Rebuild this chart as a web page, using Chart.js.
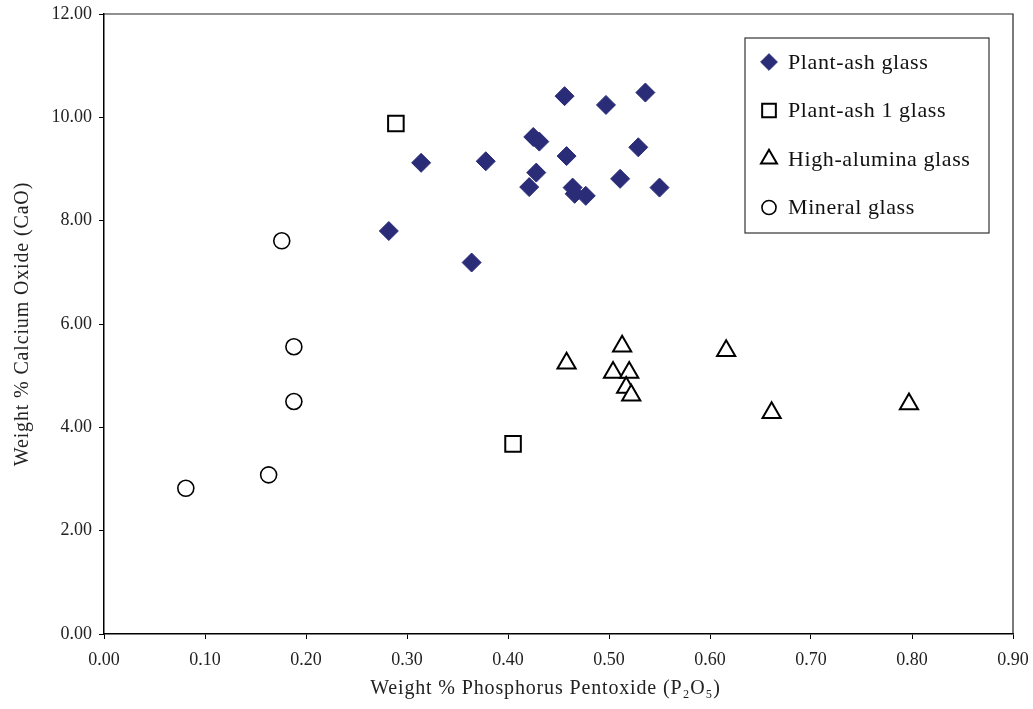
<!DOCTYPE html>
<html>
<head>
<meta charset="utf-8">
<script src="https://cdn.jsdelivr.net/npm/chart.js@4.4.1/dist/chart.umd.min.js"></script>
<style>
  body { margin: 0; background: #fff; }
  #wrap { width: 1033px; height: 709px; position: relative; }
</style>
</head>
<body>
<div id="wrap"><canvas id="chart"></canvas></div>
<script>
// values (P2O5 wt%, CaO wt%)
var plantAshX = [0.456, 0.497, 0.536, 0.425, 0.431, 0.458, 0.529, 0.314, 0.378, 0.428, 0.421, 0.464, 0.466, 0.477, 0.511, 0.550, 0.282, 0.364];
var plantAshY = [10.41, 10.24, 10.48, 9.62, 9.53, 9.25, 9.42, 9.12, 9.15, 8.93, 8.65, 8.64, 8.52, 8.48, 8.81, 8.64, 7.80, 7.19];

var plantAsh1X = [0.289, 0.405];
var plantAsh1Y = [9.88, 3.68];

var highAluminaX = [0.458, 0.513, 0.616, 0.504, 0.520, 0.517, 0.522, 0.661, 0.797];
var highAluminaY = [5.24, 5.57, 5.48, 5.06, 5.06, 4.77, 4.62, 4.28, 4.45];

var mineralX = [0.176, 0.188, 0.188, 0.163, 0.081];
var mineralY = [7.61, 5.56, 4.50, 3.08, 2.82];

var seriesNames = ['Plant-ash glass', 'Plant-ash 1 glass', 'High-alumina glass', 'Mineral glass'];

var xTitle = 'Weight % Phosphorus Pentoxide (P\u2082O\u2085)';
var yTitle = 'Weight % Calcium Oxide (CaO)';

function toPoints(xs, ys) {
    return xs.map(function(x, i) { return {x: x, y: ys[i]}; });
}

var serif = "'Liberation Serif', 'DejaVu Serif', serif";
var navy = '#2a2c78';

// plot frame, axis titles and the boxed legend, drawn Excel style
var frameAndLegend = {
    id: 'frameAndLegend',
    afterDraw: function(chart) {
        var ctx = chart.ctx, a = chart.chartArea;
        ctx.save();
        ctx.strokeStyle = '#222';
        ctx.lineWidth = 1.2;
        ctx.beginPath();
        ctx.moveTo(a.left, a.top);
        ctx.lineTo(a.right, a.top);
        ctx.lineTo(a.right, a.bottom);
        ctx.stroke();

        // axis titles
        ctx.fillStyle = '#222';
        ctx.font = '20px ' + serif;
        ctx.letterSpacing = '0.85px';
        ctx.textAlign = 'center';
        ctx.textBaseline = 'alphabetic';
        ctx.fillText(xTitle, a.left + (a.right - a.left) / 2 - 13, 694);
        ctx.save();
        ctx.translate(28, (a.top + a.bottom) / 2);
        ctx.rotate(-Math.PI / 2);
        ctx.fillText(yTitle, 0, 0);
        ctx.restore();

        // legend
        var bx = a.right - 268, by = a.top + 24, bw = 244, bh = 195;
        ctx.fillStyle = '#fff';
        ctx.fillRect(bx, by, bw, bh);
        ctx.strokeStyle = '#333';
        ctx.lineWidth = 1.2;
        ctx.strokeRect(bx, by, bw, bh);

        ctx.font = '22px ' + serif;
        ctx.letterSpacing = '0.6px';
        ctx.textBaseline = 'middle';
        ctx.textAlign = 'left';
        chart.data.datasets.forEach(function(ds, i) {
            var cy = by + 24 + i * 48.5;
            var cx = bx + 24;
            ctx.save();
            ctx.fillStyle = ds.backgroundColor;
            ctx.strokeStyle = ds.borderColor;
            ctx.lineWidth = ds.borderWidth;
            Chart.helpers.drawPoint(ctx, {
                pointStyle: ds.pointStyle,
                radius: ds.pointRadius * 0.88,
                rotation: 0,
                borderWidth: ds.borderWidth
            }, cx, cy);
            ctx.restore();
            ctx.fillStyle = '#111';
            ctx.fillText(ds.label, cx + 19, cy + 1);
        });
        ctx.letterSpacing = '0px';
        ctx.restore();
    }
};

new Chart(document.getElementById('chart'), {
    type: 'scatter',
    data: {
        datasets: [
            {
                label: seriesNames[0],
                data: toPoints(plantAshX, plantAshY),
                pointStyle: 'rectRot',
                pointRadius: 9.5,
                backgroundColor: navy,
                borderColor: navy,
                borderWidth: 1
            },
            {
                label: seriesNames[1],
                data: toPoints(plantAsh1X, plantAsh1Y),
                pointStyle: 'rect',
                pointRadius: 11,
                backgroundColor: '#fff',
                borderColor: '#000',
                borderWidth: 2
            },
            {
                label: seriesNames[2],
                data: toPoints(highAluminaX, highAluminaY),
                pointStyle: 'triangle',
                pointRadius: 10.5,
                backgroundColor: '#fff',
                borderColor: '#000',
                borderWidth: 2
            },
            {
                label: seriesNames[3],
                data: toPoints(mineralX, mineralY),
                pointStyle: 'circle',
                pointRadius: 8,
                backgroundColor: '#fff',
                borderColor: '#000',
                borderWidth: 1.6
            }
        ]
    },
    options: {
        responsive: true,
        maintainAspectRatio: false,
        animation: false,
        layout: { padding: { top: 14, right: 20, bottom: 0, left: 0 } },
        plugins: {
            legend: { display: false },
            tooltip: { enabled: false }
        },
        scales: {
            x: {
                type: 'linear',
                min: 0,
                max: 0.9,
                afterFit: function(s) {
                    s.height = 75;
                    s.paddingLeft = 0;
                    s.paddingRight = 0;
                },
                ticks: {
                    stepSize: 0.1,
                    padding: 10,
                    color: '#222',
                    font: { family: serif, size: 18 },
                    callback: function(v) { return v.toFixed(2); }
                },
                grid: { drawOnChartArea: false, drawTicks: true, tickLength: 5, color: '#000' },
                border: { display: true, color: '#000', width: 1.5 }
            },
            y: {
                type: 'linear',
                min: 0,
                max: 12,
                afterFit: function(s) {
                    s.width = 104;
                    s.paddingTop = 0;
                    s.paddingBottom = 0;
                },
                ticks: {
                    stepSize: 2,
                    padding: 7,
                    color: '#222',
                    font: { family: serif, size: 18 },
                    callback: function(v) { return v.toFixed(2); }
                },
                grid: { drawOnChartArea: false, drawTicks: true, tickLength: 5, color: '#000' },
                border: { display: true, color: '#000', width: 1.5 }
            }
        }
    },
    plugins: [frameAndLegend]
});
</script>
</body>
</html>
